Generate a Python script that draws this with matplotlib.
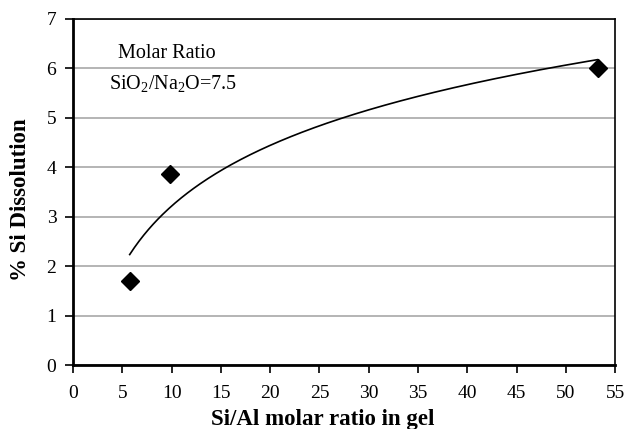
import numpy as np
import matplotlib
matplotlib.use("Agg")
import matplotlib.pyplot as plt

plt.rcParams['font.family'] = ['Liberation Serif', 'DejaVu Serif']
plt.rcParams['mathtext.fontset'] = 'custom'
plt.rcParams['mathtext.rm'] = 'Liberation Serif'

# measured points
si_al = [5.75, 9.8, 53.2]
si_diss = [1.71, 3.87, 6.01]

x_ticks = list(range(0, 60, 5))
y_ticks = list(range(0, 8))

fig = plt.figure(figsize=(6.24, 4.29), dpi=100)
ax = fig.add_axes([0.117, 0.149, 0.869, 0.807])

# logarithmic trendline fitted to the points
a, b = np.polyfit(np.log(si_al), si_diss, 1)
xs = np.linspace(min(si_al), max(si_al), 300)
ax.plot(xs, a * np.log(xs) + b, color='black', lw=1.2, zorder=2)

ax.plot(si_al, si_diss, linestyle='none', marker='D', ms=9.5,
        color='black', zorder=3)

ax.set_xlim(0, 55)
ax.set_ylim(0, 7)
ax.set_xticks(x_ticks)
ax.set_yticks(y_ticks)
ax.yaxis.grid(True, color='#a8a8a8', lw=1.2)
ax.set_axisbelow(True)

for side in ['left', 'bottom']:
    ax.spines[side].set_linewidth(2)
for side in ['top', 'right']:
    ax.spines[side].set_linewidth(1.2)
ax.tick_params(direction='out', length=6, width=1.2, labelsize=14, pad=6)
ax.tick_params(axis='x', pad=8)

ax.set_xlabel('Si/Al molar ratio in gel', fontsize=16.5, fontweight='bold')
ax.set_ylabel('% Si Dissolution', fontsize=16.5, fontweight='bold')
ax.xaxis.set_label_coords(0.46, -0.128)
ax.yaxis.set_label_coords(-0.077, 0.477)

ax.text(4.6, 6.3, 'Molar Ratio', fontsize=14.5, va='center')
ax.text(3.65, 5.68, r'SiO$_2$/Na$_2$O=7.5', fontsize=14.5, va='center')

fig.savefig('out.png', dpi=100)
